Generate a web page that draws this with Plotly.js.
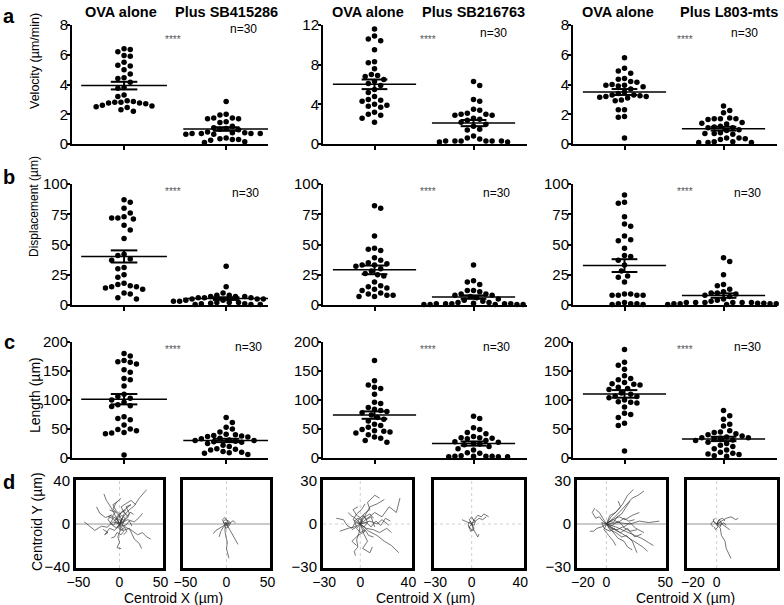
<!DOCTYPE html>
<html>
<head>
<meta charset="utf-8">
<script src="https://cdn.plot.ly/plotly-3.0.1.min.js"></script>
<style>
  html, body { margin: 0; padding: 0; background: #fff; }
  #chart { width: 784px; height: 605px; }
</style>
</head>
<body>
<div id="chart"></div>
<script>
// ---------------- values ----------------
var groupTitles = ["OVA alone", "Plus SB415286", "OVA alone", "Plus SB216763", "OVA alone", "Plus L803-mts"];

// row a : velocity (um/min)
var velOva1 = [6.4, 6.35, 6.2, 5.95, 5.9, 5.5, 5.3, 5.25, 5.0, 4.7, 4.45, 4.4, 4.15, 3.8, 3.75, 3.3, 3.2, 2.9, 2.85, 2.8, 2.8, 2.75, 2.75, 2.7, 2.6, 2.55, 2.5, 2.45, 2.3, 2.2];
var velSB415 = [2.85, 2.0, 1.95, 1.75, 1.75, 1.7, 1.7, 1.5, 1.45, 1.2, 1.1, 1.05, 1.0, 0.95, 0.8, 0.75, 0.75, 0.7, 0.7, 0.7, 0.7, 0.65, 0.65, 0.4, 0.35, 0.3, 0.3, 0.25, 0.15, 0.1];
var velOva2 = [11.6, 10.9, 10.6, 10.4, 9.5, 8.3, 8.2, 7.6, 7.0, 6.9, 6.8, 6.5, 6.3, 6.1, 5.9, 5.5, 5.2, 4.8, 4.5, 4.4, 4.3, 4.0, 3.9, 3.8, 3.7, 3.2, 3.0, 2.9, 2.6, 2.2];
var velSB216 = [6.3, 5.9, 4.5, 4.3, 3.5, 3.4, 3.1, 3.0, 3.0, 2.9, 2.9, 2.6, 2.5, 2.4, 2.2, 2.0, 1.8, 1.5, 1.4, 0.8, 0.6, 0.5, 0.3, 0.3, 0.3, 0.3, 0.3, 0.3, 0.2, 0.2];
var velOva3 = [5.8, 5.1, 4.9, 4.75, 4.4, 4.35, 4.2, 4.15, 4.0, 3.95, 3.95, 3.9, 3.85, 3.7, 3.5, 3.4, 3.3, 3.3, 3.25, 3.2, 3.2, 3.15, 3.1, 2.95, 2.9, 2.3, 2.3, 1.85, 1.8, 0.4];
var velL803 = [2.55, 2.25, 2.1, 1.75, 1.7, 1.7, 1.7, 1.65, 1.45, 1.4, 1.35, 1.2, 1.15, 1.1, 1.1, 0.95, 0.9, 0.75, 0.7, 0.7, 0.65, 0.4, 0.4, 0.35, 0.3, 0.15, 0.15, 0.1, 0.1, 0.1];

// row b : displacement (um)
var dispOva1 = [87, 85, 80, 76, 73, 72, 72, 71, 66, 62, 55, 42, 41, 38, 37, 31, 30, 25, 23, 18, 17, 16, 15, 15, 14, 13, 10, 9, 6, 5];
var dispSB415 = [32, 15, 10, 7, 8, 8, 7, 7, 6, 6, 6, 5, 5, 5, 4, 4, 3, 3, 3, 3, 2, 2, 2, 1.5, 1, 1, 1, 0.5, 0.5, 0.5];
var dispOva2 = [82, 80, 57, 47, 46, 45, 39, 37, 35, 34, 33, 33, 32, 30, 28, 26, 25, 24, 19, 16, 15, 14, 13, 12, 10, 9, 8, 8, 7, 7];
var dispSB216 = [33, 19, 20, 17, 12, 12, 11, 9, 9, 8, 8, 7, 6, 5, 4, 3, 2, 2, 1.5, 1, 1, 1, 1, 1, 0.5, 0.5, 0.5, 0.5, 0.5, 0.5];
var dispOva3 = [91, 85, 84, 73, 67, 65, 57, 54, 53, 47, 41, 40, 37, 33, 28, 24, 23, 19, 9, 9, 8, 8, 8, 8, 2, 1, 1, 1, 0.5, 0.5];
var dispL803 = [39, 36, 25, 17, 16, 13, 11, 10, 10, 9, 8, 7, 5, 4, 3, 2, 2, 2, 2, 2, 2, 1.5, 1.5, 1, 1, 1, 1, 0.5, 0.5, 0.5];

// row c : length (um)
var lenOva1 = [180, 176, 168, 166, 165, 162, 152, 148, 137, 135, 124, 110, 106, 103, 100, 96, 92, 90, 89, 71, 68, 66, 57, 50, 49, 47, 44, 43, 42, 5];
var lenSB415 = [70, 61, 53, 50, 45, 41, 40, 39, 38, 37, 36, 34, 33, 31, 30, 30, 29, 28, 27, 25, 22, 20, 16, 15, 14, 11, 10, 9, 8, 6];
var lenOva2 = [168, 133, 126, 122, 120, 110, 96, 94, 87, 84, 82, 80, 78, 74, 70, 67, 64, 58, 56, 53, 49, 47, 46, 45, 43, 40, 36, 34, 30, 27];
var lenSB216 = [72, 68, 52, 49, 44, 42, 37, 35, 35, 34, 33, 30, 28, 27, 25, 24, 23, 20, 16, 14, 9, 8, 4, 3, 3, 3, 3, 2, 2, 2];
var lenOva3 = [187, 165, 160, 153, 142, 137, 135, 130, 128, 127, 126, 122, 120, 118, 112, 110, 107, 106, 104, 100, 97, 96, 95, 88, 77, 75, 70, 60, 56, 12];
var lenL803 = [82, 73, 67, 58, 55, 47, 45, 44, 42, 40, 38, 36, 35, 35, 34, 33, 31, 30, 27, 25, 22, 20, 16, 14, 10, 8, 7, 6, 4, 3];

// row d : cell tracks, [x, y] in um from the start point
var tracksOva1 = [
  [[0,0],[4,6],[10,12],[18,17],[24,24],[30,30],[33,32]],
  [[0,0],[-8,2],[-15,-3],[-22,-2],[-30,-6],[-36,-2],[-43,2]],
  [[0,0],[1,-6],[-2,-12],[0,-17],[-3,-22],[2,-23]],
  [[0,0],[8,-3],[15,-6],[22,-10],[28,-8],[33,-12],[38,-14]],
  [[0,0],[-5,8],[-10,15],[-16,22],[-19,28]],
  [[0,0],[6,10],[2,16],[9,20],[14,22],[20,18]],
  [[0,0],[-6,-6],[-12,-4],[-18,-10],[-14,-8],[-20,-5]],
  [[0,0],[10,4],[18,2],[24,6],[28,10]],
  [[0,0],[-4,5],[-11,8],[-17,6],[-24,10],[-28,16]],
  [[0,0],[5,-6],[12,-4],[18,-14],[24,-18],[27,-23]],
  [[0,0],[3,4],[-3,10],[-8,14],[-4,20],[2,24]],
  [[0,0],[-3,-4],[-9,-1],[-14,4],[-10,9]],
  [[0,0],[7,5],[12,10],[8,16],[14,18],[4,12]],
  [[0,0],[-6,3],[-2,8],[5,12],[10,7]],
  [[0,0],[3,2],[-2,5],[-6,3],[-9,7],[-5,11],[-12,13]],
  [[0,0],[-2,-3],[2,-6],[6,-3],[9,-7],[5,-10]],
  [[0,0],[4,1],[7,5],[3,8],[-1,6],[2,11],[8,13]],
  [[0,0],[-4,2],[-7,-1],[-11,1],[-8,5],[-14,7]],
  [[0,0],[2,5],[6,3],[10,6],[13,11],[17,9]],
  [[0,0],[1,-4],[5,-7],[2,-10],[-3,-8],[-6,-12],[-10,-13]],
  [[0,0],[-3,6],[1,9],[-4,12],[-8,18],[-2,21]],
  [[0,0],[5,2],[3,-2],[8,-1],[12,3],[15,-2]]
];
var tracksSB415 = [
  [[0,0],[-2,-5],[-1,-11],[1,-17],[0,-23],[2,-28],[3,-32]],
  [[0,0],[3,-4],[6,-9],[9,-13],[12,-17],[14,-19]],
  [[0,0],[-5,-2],[-9,-4],[-13,-6],[-16,-9]],
  [[0,0],[-4,-3],[-7,-7],[-9,-12]],
  [[0,0],[4,1],[8,3],[11,1]],
  [[0,0],[2,3],[-2,4],[-4,2],[-2,-1]],
  [[0,0],[3,-2],[5,1],[2,3]],
  [[0,0],[-3,1],[-5,4],[-2,6],[1,3]],
  [[0,0],[2,-3],[-1,-4],[-3,-1]],
  [[0,0],[1,2],[3,1],[2,-1]],
  [[0,0],[-1,-1],[-2,1],[0,2]]
];
var tracksOva2 = [
  [[0,0],[6,4],[12,8],[18,5],[24,12],[30,8],[33,18]],
  [[0,0],[4,6],[8,12],[14,14],[20,17]],
  [[0,0],[3,7],[8,10],[6,15],[12,20],[16,18]],
  [[0,0],[-5,-2],[-10,-3],[-14,-4],[-17,-5]],
  [[0,0],[-1,-6],[-3,-11],[-2,-16],[-5,-19],[-4,-22]],
  [[0,0],[7,-5],[14,-8],[20,-12],[26,-15],[32,-20]],
  [[0,0],[5,-3],[11,-4],[16,-6],[22,-3],[26,-6]],
  [[0,0],[-4,4],[-8,6],[-10,8]],
  [[0,0],[3,-7],[6,-12],[2,-17],[8,-20],[10,-16]],
  [[0,0],[8,2],[14,0],[18,3],[24,-1]],
  [[0,0],[-2,3],[2,6],[5,3],[9,5],[12,-2]],
  [[0,0],[-6,3],[-3,7],[1,10],[4,14]],
  [[0,0],[4,-5],[-2,-8],[-7,-12],[-3,-15]],
  [[0,0],[2,2],[-2,4],[-5,2],[-3,-2],[-7,-4]],
  [[0,0],[3,-2],[6,1],[4,5],[8,7],[11,4]],
  [[0,0],[-3,-3],[0,-6],[4,-4],[7,-8],[11,-9]],
  [[0,0],[1,4],[-3,6],[-6,10],[-2,12]],
  [[0,0],[5,1],[9,-2],[13,2],[17,-1],[21,4],[25,2]],
  [[0,0],[-4,1],[-7,-3],[-11,-1],[-14,3],[-20,4]]
];
var tracksSB216 = [
  [[0,0],[3,2],[6,4],[9,3],[12,5]],
  [[0,0],[2,3],[5,6],[8,5],[10,7],[14,5]],
  [[0,0],[-3,1],[-6,2],[-8,3]],
  [[0,0],[1,-3],[3,-6],[5,-9],[6,-7]],
  [[0,0],[-2,-2],[-1,-5],[2,-4]],
  [[0,0],[2,-1],[3,2],[1,3]],
  [[0,0],[-1,2],[-3,0],[-2,-3]],
  [[0,0],[-2,3],[0,5],[2,2]],
  [[0,0],[2,-3],[0,-4],[-2,-2]]
];
var tracksOva3 = [
  [[0,0],[6,4],[12,9],[18,14],[22,18],[27,20],[32,23]],
  [[0,0],[4,5],[10,10],[14,14],[18,20],[23,24]],
  [[0,0],[8,-2],[16,-5],[24,-8],[30,-10],[36,-13],[40,-15]],
  [[0,0],[7,-4],[14,-7],[20,-10],[26,-13],[31,-16],[35,-19]],
  [[0,0],[-4,-2],[-8,-3],[-11,-5],[-14,-5]],
  [[0,0],[10,1],[20,0],[28,2],[36,1],[45,2]],
  [[0,0],[6,-6],[10,-10],[15,-12],[18,-16],[22,-18]],
  [[0,0],[5,3],[11,5],[16,3],[22,6],[28,8]],
  [[0,0],[-3,4],[-6,8],[-9,10]],
  [[0,0],[4,-3],[9,-4],[14,-2],[20,-5],[26,-4]],
  [[0,0],[3,6],[8,8],[12,12],[10,16]],
  [[0,0],[-2,-4],[2,-8],[6,-12],[8,-15]],
  [[0,0],[12,-6],[18,-3],[24,-9],[30,-7]],
  [[0,0],[5,-1],[10,2],[15,-2],[20,1],[25,-3],[32,-6]],
  [[0,0],[-3,2],[-6,5],[-9,4],[-12,8],[-10,11]],
  [[0,0],[6,3],[10,1],[15,4],[19,2],[24,3]],
  [[0,0],[3,-4],[8,-6],[13,-9],[17,-8],[22,-12],[26,-20]],
  [[0,0],[2,2],[6,1],[9,5],[13,7],[17,12],[20,16]],
  [[0,0],[-4,1],[-2,-3],[3,-5],[7,-3]]
];
var tracksL803 = [
  [[0,0],[3,-3],[4,-8],[7,-12],[8,-17],[10,-21],[12,-24]],
  [[0,0],[4,2],[8,4],[12,5],[16,3],[18,4]],
  [[0,0],[3,1],[6,-1],[9,-3],[11,-4]],
  [[0,0],[2,3],[5,4],[7,2]],
  [[0,0],[-2,1],[-3,3],[-1,4]],
  [[0,0],[1,-2],[-1,-4],[-2,-2]],
  [[0,0],[3,-1],[6,1],[8,-1]],
  [[0,0],[-3,2],[-5,0],[-3,-2]],
  [[0,0],[2,3],[4,1],[3,-2]]
];

// ---------------- layout helpers (pixel boxes of the figure) ----------------
var W = 784, H = 605;
function xdom(a, b) { return [a / W, b / W]; }
function ydom(top, bottom) { return [1 - bottom / H, 1 - top / H]; }

var colPx = [[72, 268], [323, 527], [573, 777]];
var colRange = [[-0.51, 1.41], [-0.52, 1.54], [-0.52, 1.54]];
var rowPx = [[25, 144], [184, 305], [342, 458]];

var rows = [
  { ymax: [8, 12, 8], ticks: [[0, 2, 4, 6, 8], [0, 4, 8, 12], [0, 2, 4, 6, 8]],
    data: [[velOva1, velSB415], [velOva2, velSB216], [velOva3, velL803]] },
  { ymax: [100, 100, 100], ticks: [[0, 25, 50, 75, 100], [0, 25, 50, 75, 100], [0, 25, 50, 75, 100]],
    data: [[dispOva1, dispSB415], [dispOva2, dispSB216], [dispOva3, dispL803]] },
  { ymax: [200, 200, 200], ticks: [[0, 50, 100, 150, 200], [0, 50, 100, 150, 200], [0, 50, 100, 150, 200]],
    data: [[lenOva1, lenSB415], [lenOva2, lenSB216], [lenOva3, lenL803]] }
];

// beeswarm: spread points sideways in pixel space so dots don't overlap
function swarmOffsets(vals, pxX, pxY, d) {
  var idx = vals.map(function (v, i) { return i; })
                .sort(function (a, b) { return vals[b] - vals[a]; });
  var placed = [];
  var out = new Array(vals.length);
  idx.forEach(function (i, n) {
    var py = vals[i] * pxY;
    for (var k = 0; k < 200; k++) {
      var s = k * d * 0.5;
      var tries = k === 0 ? [0] : (n % 2 ? [s, -s] : [-s, s]);
      var hit = null;
      for (var t = 0; t < tries.length; t++) {
        var px = tries[t];
        var clash = placed.some(function (p) {
          var dx = p[0] - px, dy = p[1] - py;
          return dx * dx + dy * dy < d * d;
        });
        if (!clash) { hit = px; break; }
      }
      if (hit !== null) { placed.push([hit, py]); out[i] = hit / pxX; break; }
    }
  });
  return out;
}

function meanSem(vals) {
  var n = vals.length;
  var m = vals.reduce(function (a, b) { return a + b; }, 0) / n;
  var sd = Math.sqrt(vals.reduce(function (a, b) { return a + (b - m) * (b - m); }, 0) / (n - 1));
  return [m, sd / Math.sqrt(n)];
}

var FONT = "Liberation Sans, Arial, Helvetica, sans-serif";
var traces = [];
var layout = {
  width: W, height: H,
  margin: { l: 0, r: 0, t: 0, b: 0 },
  paper_bgcolor: "#fff", plot_bgcolor: "rgba(0,0,0,0)",
  showlegend: false,
  font: { family: FONT, color: "#000", size: 15 },
  annotations: [], shapes: []
};

// ---------------- dot plots (rows a-c) ----------------
rows.forEach(function (row, r) {
  for (var c = 0; c < 3; c++) {
    var k = r * 3 + c + 1;
    var xa = "x" + (k === 1 ? "" : k), ya = "y" + (k === 1 ? "" : k);
    var pxX = (colPx[c][1] - colPx[c][0]) / (colRange[c][1] - colRange[c][0]);
    var pxY = (rowPx[r][1] - rowPx[r][0]) / row.ymax[c];

    var px = [], py = [], lx = [], ly = [], ex = [], ey = [];
    row.data[c].forEach(function (vals, g) {
      var offs = swarmOffsets(vals, pxX, pxY, 6.2);
      vals.forEach(function (v, i) { px.push(g + offs[i]); py.push(v); });
      var ms = meanSem(vals), m = ms[0], se = ms[1];
      lx.push(g - 0.42, g + 0.42, null); ly.push(m, m, null);
      ex.push(g - 0.13, g + 0.13, null, g - 0.13, g + 0.13, null, g, g, null);
      ey.push(m + se, m + se, null, m - se, m - se, null, m - se, m + se, null);
    });
    traces.push({ x: px, y: py, xaxis: xa, yaxis: ya, type: "scatter", mode: "markers",
      marker: { color: "#000", size: 5.5 }, cliponaxis: false, hoverinfo: "y" });
    traces.push({ x: lx, y: ly, xaxis: xa, yaxis: ya, type: "scatter", mode: "lines",
      line: { color: "#000", width: 1.5 }, hoverinfo: "skip" });
    traces.push({ x: ex, y: ey, xaxis: xa, yaxis: ya, type: "scatter", mode: "lines",
      line: { color: "#000", width: 2 }, hoverinfo: "skip" });

    layout["xaxis" + (k === 1 ? "" : k)] = {
      domain: xdom(colPx[c][0], colPx[c][1]), anchor: ya, range: colRange[c],
      showline: true, linecolor: "#000", linewidth: 2, showgrid: false, zeroline: false,
      ticks: "outside", ticklen: 4, tickwidth: 1.5, tickcolor: "#000",
      tickvals: [0, 1], showticklabels: false, fixedrange: true
    };
    layout["yaxis" + (k === 1 ? "" : k)] = {
      domain: ydom(rowPx[r][0], rowPx[r][1]), anchor: xa, range: [0, row.ymax[c]],
      showline: true, linecolor: "#000", linewidth: 2, showgrid: false, zeroline: false,
      ticks: "outside", ticklen: 3, tickwidth: 1.5, tickcolor: "#000", ticklabelstandoff: -4,
      tickvals: row.ticks[c], tickfont: { size: 15 }, fixedrange: true
    };
  }
});

// ---------------- track plots (row d) ----------------
var trackPanels = [
  { tracks: tracksOva1, px: [76, 163], xr: [-53, 53], xt: [-50, 0, 50], yr: [-41, 41], yt: [-40, 0, 40], ylab: true, hsolid: true },
  { tracks: tracksSB415, px: [183, 270], xr: [-53, 53], xt: [-50, 0, 50], yr: [-41, 41], yt: [-40, 0, 40], ylab: false, hsolid: true },
  { tracks: tracksOva2, px: [323, 412], xr: [-31, 43], xt: [-30, 0, 40], yr: [-30.6, 30.6], yt: [-30, 0, 30], ylab: true, hsolid: false },
  { tracks: tracksSB216, px: [434, 524], xr: [-31, 43], xt: [-30, 0, 40], yr: [-30.6, 30.6], yt: [-30, 0, 30], ylab: false, hsolid: false },
  { tracks: tracksOva3, px: [577, 666], xr: [-25, 50.7], xt: [-20, 0, 50], yr: [-30.6, 30.6], yt: [-30, 0, 30], ylab: true, hsolid: true },
  { tracks: tracksL803, px: [687, 777], xr: [-25, 50.7], xt: [-20, 0, 50], yr: [-30.6, 30.6], yt: [-30, 0, 30], ylab: false, hsolid: true }
];

trackPanels.forEach(function (p, i) {
  var k = 10 + i;
  var xa = "x" + k, ya = "y" + k;
  var tx = [], ty = [];
  p.tracks.forEach(function (t) {
    t.forEach(function (pt) { tx.push(pt[0]); ty.push(pt[1]); });
    tx.push(null); ty.push(null);
  });
  // crosshair through the origin
  layout.shapes.push({ type: "line", xref: xa, yref: ya, x0: p.xr[0], x1: p.xr[1], y0: 0, y1: 0,
    layer: "below", line: { color: p.hsolid ? "#b8b8b8" : "#cfcfcf", width: p.hsolid ? 1.5 : 1, dash: p.hsolid ? "solid" : "dot" } });
  layout.shapes.push({ type: "line", xref: xa, yref: ya, x0: 0, x1: 0, y0: p.yr[0], y1: p.yr[1],
    layer: "below", line: { color: "#cfcfcf", width: 1, dash: "dot" } });

  traces.push({ x: tx, y: ty, xaxis: xa, yaxis: ya, type: "scatter", mode: "lines",
    line: { color: "#3a3a3a", width: 0.7 }, connectgaps: false, hoverinfo: "skip" });

  layout["xaxis" + k] = {
    domain: xdom(p.px[0], p.px[1]), anchor: ya, range: p.xr,
    showline: true, mirror: true, linecolor: "#000", linewidth: 3, showgrid: false, zeroline: false,
    ticks: "", tickvals: p.xt, tickfont: { size: 14 }, ticklabelstandoff: -1, fixedrange: true
  };
  layout["yaxis" + k] = {
    domain: ydom(480, 568), anchor: xa, range: p.yr,
    showline: true, mirror: true, linecolor: "#000", linewidth: 3, showgrid: false, zeroline: false,
    ticks: "", tickvals: p.yt, showticklabels: p.ylab, tickfont: { size: 15 }, fixedrange: true
  };
});

// ---------------- text ----------------
function addText(text, x, y, opts) {
  var a = { text: text, xref: "paper", yref: "paper", x: x / W, y: 1 - y / H,
    xanchor: "center", yanchor: "middle", showarrow: false, font: { family: FONT, size: 14, color: "#000" } };
  for (var key in opts) { a[key] = opts[key]; }
  layout.annotations.push(a);
}

var titleX = [121, 226, 368, 473, 618, 729];
groupTitles.forEach(function (t, i) { addText("<b>" + t + "</b>", titleX[i], 12, { font: { family: FONT, size: 14.5, color: "#000" } }); });

[["a", 16], ["b", 177], ["c", 342], ["d", 482]].forEach(function (l) {
  addText("<b>" + l[0] + "</b>", 9, l[1], { font: { family: FONT, size: 20, color: "#000" } });
});

var starX = [173, 428, 685], starY = [39, 192, 349];
var nX = [[243, 493, 744], [245, 496, 747], [248, 496, 747]], nY = [[29, 33, 33], [193, 193, 193], [347, 347, 347]];
for (var r = 0; r < 3; r++) {
  for (var c = 0; c < 3; c++) {
    addText("****", starX[c], starY[r], { font: { family: FONT, size: 10, color: "#555" } });
    addText("n=30", nX[r][c], nY[r][c], { font: { family: FONT, size: 12, color: "#000" } });
  }
}

addText("Velocity (\u00b5m/min)", 35, 61, { textangle: -90, font: { family: FONT, size: 12.5, color: "#000" } });
addText("Displacement (\u00b5m)", 34, 207, { textangle: -90, font: { family: FONT, size: 12, color: "#000" } });
addText("Length (\u00b5m)", 35, 395, { textangle: -90, font: { family: FONT, size: 14, color: "#000" } });
addText("Centroid Y (\u00b5m)", 37, 522, { textangle: -90, font: { family: FONT, size: 14, color: "#000" } });
[173, 425, 685].forEach(function (x) {
  addText("Centroid X (\u00b5m)", x, 598, { font: { family: FONT, size: 14, color: "#000" } });
});

Plotly.newPlot("chart", traces, layout, { displayModeBar: false, responsive: false });
</script>
</body>
</html>
